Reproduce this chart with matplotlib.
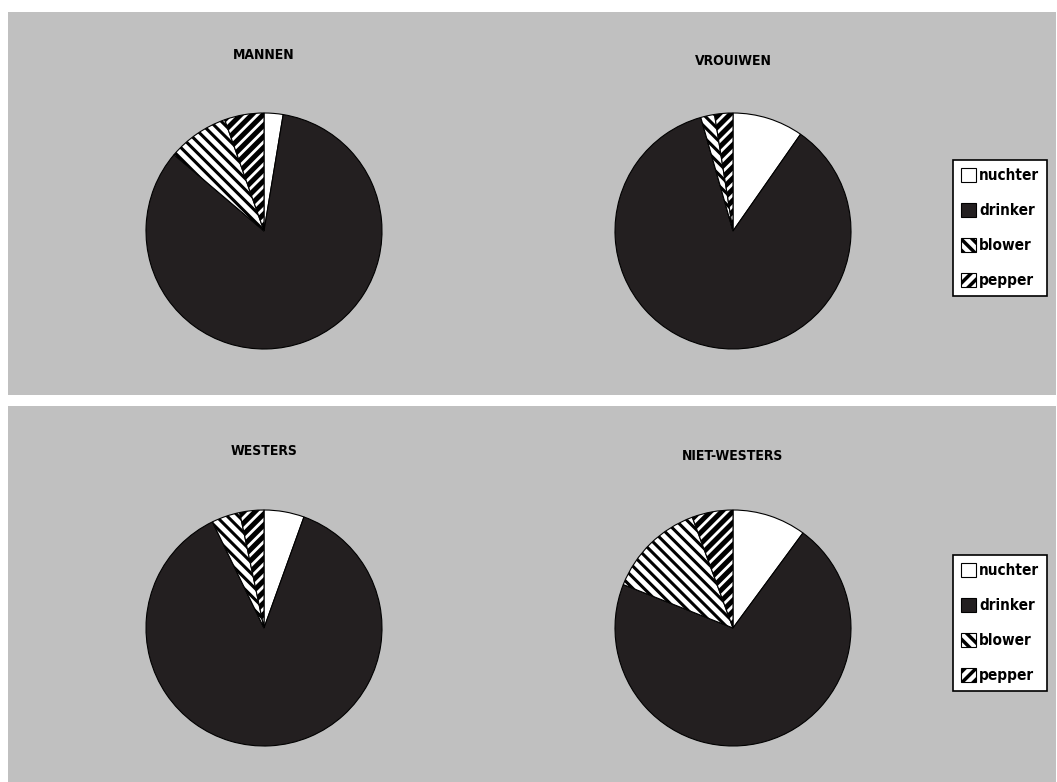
import matplotlib
matplotlib.use('Agg')
import matplotlib.pyplot as plt
from matplotlib.patches import Rectangle, Patch

# slice order: clockwise from 12 o'clock
labels = ['nuchter', 'drinker', 'blower', 'pepper']
mannen = [2.6, 83.6, 8.4, 5.4]
vrouwen = [9.7, 85.9, 1.9, 2.5]
westers = [5.5, 87.3, 3.9, 3.3]
niet_westers = [10.1, 70.9, 13.4, 5.6]
titles = ['MANNEN', 'VROUIWEN', 'WESTERS', 'NIET-WESTERS']

plt.rcParams['font.family'] = ['DejaVu Sans']
plt.rcParams['font.stretch'] = 'condensed'
plt.rcParams['hatch.linewidth'] = 2.5

W, H = 1057, 782
fig = plt.figure(figsize=(W / 100, H / 100), dpi=100)
fig.patch.set_facecolor('white')

bg = '#c0c0c0'
dark = '#231f20'
faces = ['white', dark, 'white', 'white']
hatches = [None, None, '\\\\\\', '///']
hatch_lw = [None, None, 2.2, 3.6]

# grey panels (pixel boxes: x0, y0 top, x1, y1 bottom)
for (x0, y0, x1, y1) in [(8, 12, 1056, 395), (8, 406, 1056, 782)]:
    fig.patches.append(Rectangle((x0 / W, 1 - y1 / H), (x1 - x0) / W, (y1 - y0) / H,
                                 transform=fig.transFigure, facecolor=bg,
                                 edgecolor='none', zorder=-5))

centers = [(264, 231), (733, 231), (264, 628), (733, 628)]
title_y = [55, 61, 451, 456]
r = 118
data = [mannen, vrouwen, westers, niet_westers]


def style_hatch(patch, h, lw):
    if h:
        patch.set_hatch(h)
        if hasattr(patch, 'set_hatch_linewidth'):
            patch.set_hatch_linewidth(lw)


for vals, (cx, cy), title, ty in zip(data, centers, titles, title_y):
    ax = fig.add_axes([(cx - r) / W, 1 - (cy + r) / H, 2 * r / W, 2 * r / H])
    ax.set_zorder(2)
    wedges, _ = ax.pie(vals, startangle=90, counterclock=False, colors=faces,
                       wedgeprops=dict(edgecolor='black', linewidth=0.8))
    for w, h, lw in zip(wedges, hatches, hatch_lw):
        style_hatch(w, h, lw)
    ax.set_xlim(-1, 1)
    ax.set_ylim(-1, 1)
    ax.set_aspect('equal')
    ax.axis('off')
    fig.text(cx / W, 1 - ty / H, title, ha='center', va='center',
             fontsize=10, fontweight='bold', color='black')

for ly in [228, 623]:
    handles = [Patch(facecolor=f, edgecolor='black', linewidth=0.8) for f in faces]
    for p, h, lw in zip(handles, hatches, hatch_lw):
        style_hatch(p, h, lw)
    leg = fig.legend(handles, labels, loc='center', bbox_to_anchor=(1000 / W, 1 - ly / H),
                     frameon=True, fancybox=False, edgecolor='black', facecolor='white',
                     framealpha=1, handlelength=1.0, handleheight=1.0, handletextpad=0.2,
                     labelspacing=1.3, borderpad=0.5,
                     prop={'weight': 'bold', 'size': 11, 'stretch': 'condensed'})
    leg.get_frame().set_linewidth(1.2)
    leg.set_zorder(3)

fig.savefig('out.png', dpi=100, facecolor='white')
